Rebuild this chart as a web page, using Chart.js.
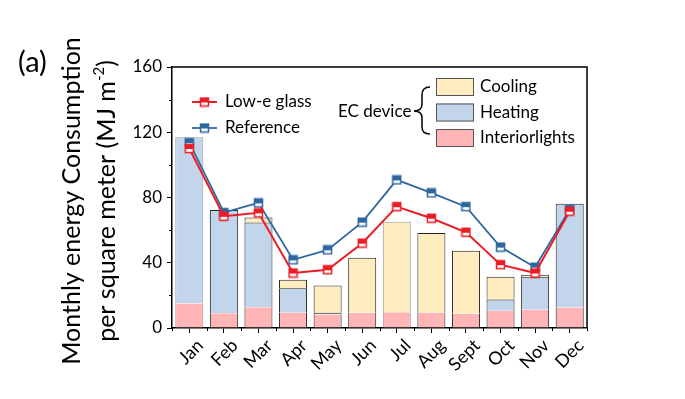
<!DOCTYPE html>
<html>
<head>
<meta charset="utf-8">
<script src="https://cdn.jsdelivr.net/npm/chart.js@4"></script>
<style>
    html, body { margin: 0; padding: 0; background: #fff; }
    #wrap { width: 685px; height: 399px; }
</style>
</head>
<body>
<div id="wrap"><canvas id="energy-chart" width="685" height="399"></canvas></div>
<script>
const months = ["Jan", "Feb", "Mar", "Apr", "May", "Jun", "Jul", "Aug", "Sept", "Oct", "Nov", "Dec"];
const interiorLights = [15, 9, 12.7, 9.4, 8.2, 9.4, 9.6, 9.4, 8.8, 10.6, 11.2, 12.5];
const heating = [102, 63.4, 52, 14.9, 1.2, 0, 0, 0, 0, 6.9, 20.2, 63.6];
const cooling = [0, 0, 3, 5.3, 16.7, 33.7, 55.5, 48.9, 38.5, 13.9, 1.3, 0];
const lowEGlass = [110, 68.5, 70.6, 33.7, 35.7, 52, 74.4, 67.3, 58.7, 38.8, 33.7, 71.6];
const reference = [113.6, 70.8, 76.7, 41.8, 47.9, 64.9, 90.8, 82.8, 74.4, 49.6, 37.3, 72.6];
const yTicks = [0, 40, 80, 120, 160];

const FONT = "Lato, 'Open Sans', sans-serif";
const RED = "#ec1c24";
const BLUE = "#2f67a0";
const COOL = "#ffecbf";
const HEAT = "#c2d5ea";
const LIGHT = "#ffb4b6";

// bar outlines: a couple of months look grey instead of black
const outline = months.map((m) => (m === "Jan" || m === "Jul" ? "#9a9a9a" : "#222"));

function halfSquare(color) {
    const c = document.createElement("canvas");
    c.width = 11;
    c.height = 11;
    const g = c.getContext("2d");
    g.fillStyle = "#fff";
    g.fillRect(1, 1, 9, 9);
    g.fillStyle = color;
    g.fillRect(1, 1, 9, 5);
    g.strokeStyle = color;
    g.lineWidth = 1.5;
    g.strokeRect(1.5, 1.5, 8, 8);
    return c;
}
const redMarker = halfSquare(RED);
const blueMarker = halfSquare(BLUE);

const decor = {
    id: "decor",
    afterDraw(chart) {
        const { ctx, chartArea } = chart;
        const xs = chart.scales.x;
        const ys = chart.scales.y;
        ctx.save();

        // top + right frame
        ctx.strokeStyle = "#000";
        ctx.lineWidth = 1.5;
        ctx.beginPath();
        ctx.moveTo(chartArea.left, chartArea.top);
        ctx.lineTo(chartArea.right, chartArea.top);
        ctx.lineTo(chartArea.right, chartArea.bottom);
        ctx.stroke();

        // minor ticks
        ctx.lineWidth = 1;
        ctx.beginPath();
        const half = (xs.getPixelForValue(1) - xs.getPixelForValue(0)) / 2;
        for (let i = 0; i <= months.length; i++) {
            const px = Math.round(xs.getPixelForValue(0) - half + i * 2 * half) + 0.5;
            ctx.moveTo(px, chartArea.bottom);
            ctx.lineTo(px, chartArea.bottom + 3);
        }
        for (let v = 20; v < 160; v += 40) {
            const py = Math.round(ys.getPixelForValue(v)) + 0.5;
            ctx.moveTo(chartArea.left, py);
            ctx.lineTo(chartArea.left - 3, py);
        }
        ctx.stroke();

        ctx.fillStyle = "#000";
        ctx.textBaseline = "middle";

        // panel letter
        ctx.font = "29px " + FONT;
        ctx.textAlign = "left";
        ctx.fillText("(a)", 18, 63);

        // y title, two rotated lines
        ctx.save();
        ctx.translate(72, 201);
        ctx.rotate(-Math.PI / 2);
        ctx.font = "25px " + FONT;
        ctx.textAlign = "center";
        ctx.fillText("Monthly energy Consumption", 0, 0);
        ctx.restore();

        ctx.save();
        ctx.translate(107, 201);
        ctx.rotate(-Math.PI / 2);
        ctx.font = "25px " + FONT;
        ctx.textAlign = "left";
        const a = "per square meter (MJ m";
        const sup = "-2";
        const b = ")";
        const wa = ctx.measureText(a).width;
        const wb = ctx.measureText(b).width;
        ctx.font = "15px " + FONT;
        const ws = ctx.measureText(sup).width;
        let x0 = -(wa + ws + wb) / 2;
        ctx.font = "25px " + FONT;
        ctx.fillText(a, x0, 0);
        ctx.font = "15px " + FONT;
        ctx.fillText(sup, x0 + wa, -8);
        ctx.font = "25px " + FONT;
        ctx.fillText(b, x0 + wa + ws, 0);
        ctx.restore();

        // line legend
        ctx.font = "17px " + FONT;
        [["Low-e glass", RED, redMarker, 102, 2], ["Reference", BLUE, blueMarker, 128, 1.8]].forEach(
            ([label, color, marker, y, w]) => {
                ctx.strokeStyle = color;
                ctx.lineWidth = w;
                ctx.beginPath();
                ctx.moveTo(192, y);
                ctx.lineTo(217, y);
                ctx.stroke();
                ctx.drawImage(marker, 199, y - 5.5);
                ctx.fillText(label, 225, y);
            }
        );

        // bar legend
        ctx.fillText("EC device", 338, 112);
        ctx.strokeStyle = "#000";
        ctx.lineWidth = 1.5;
        ctx.beginPath();
        ctx.moveTo(430, 87);
        ctx.quadraticCurveTo(422, 87, 422, 95);
        ctx.lineTo(422, 104);
        ctx.quadraticCurveTo(422, 111, 414, 111);
        ctx.quadraticCurveTo(422, 111, 422, 118);
        ctx.lineTo(422, 127);
        ctx.quadraticCurveTo(422, 134, 430, 134);
        ctx.stroke();

        [["Cooling", COOL, 78], ["Heating", HEAT, 103.5], ["Interiorlights", LIGHT, 129]].forEach(
            ([label, color, y]) => {
                ctx.fillStyle = color;
                ctx.fillRect(436, y, 38, 18);
                ctx.strokeStyle = "#555";
                ctx.lineWidth = 1;
                ctx.strokeRect(436.5, y + 0.5, 37, 17);
                ctx.fillStyle = "#000";
                ctx.fillText(label, 480, y + 9);
            }
        );

        ctx.restore();
    },
};

const ctx = document.getElementById("energy-chart").getContext("2d");

new Chart(ctx, {
    data: {
        labels: months,
        datasets: [
            {
                type: "line",
                label: "Low-e glass",
                data: lowEGlass,
                stack: "lowE",
                borderColor: RED,
                borderWidth: 2,
                pointStyle: redMarker,
                order: 1,
            },
            {
                type: "line",
                label: "Reference",
                data: reference,
                stack: "reference",
                borderColor: BLUE,
                borderWidth: 1.8,
                pointStyle: blueMarker,
                order: 1,
            },
            {
                type: "bar",
                label: "Interiorlights",
                data: interiorLights,
                stack: "ec",
                backgroundColor: LIGHT,
                borderColor: outline,
                borderWidth: { left: 1, right: 1, top: 0, bottom: 0 },
                order: 2,
            },
            {
                type: "bar",
                label: "Heating",
                data: heating,
                stack: "ec",
                backgroundColor: HEAT,
                borderColor: outline,
                borderWidth: 1,
                order: 2,
            },
            {
                type: "bar",
                label: "Cooling",
                data: cooling,
                stack: "ec",
                backgroundColor: COOL,
                borderColor: outline,
                borderWidth: 1,
                order: 2,
            },
        ],
    },
    options: {
        responsive: false,
        animation: false,
        layout: {
            padding: { left: 0, top: 67, right: 98, bottom: 0 },
        },
        datasets: {
            bar: { barPercentage: 0.81, categoryPercentage: 1 },
        },
        plugins: {
            legend: { display: false },
            tooltip: { enabled: false },
        },
        scales: {
            x: {
                stacked: true,
                offset: true,
                grid: {
                    offset: false,
                    drawOnChartArea: false,
                    tickLength: 5,
                    tickColor: "#000",
                },
                border: { color: "#000", width: 1.5 },
                ticks: {
                    autoSkip: false,
                    maxRotation: 45,
                    minRotation: 45,
                    color: "#000",
                    font: { family: FONT, size: 18 },
                    padding: 2,
                    labelOffset: 11,
                },
                afterFit(scale) {
                    scale.height = 71;
                },
            },
            y: {
                stacked: true,
                min: 0,
                max: 160,
                afterBuildTicks(scale) {
                    scale.ticks = yTicks.map((v) => ({ value: v }));
                },
                grid: {
                    drawOnChartArea: false,
                    tickLength: 5,
                    tickColor: "#000",
                },
                border: { color: "#000", width: 1.5 },
                ticks: {
                    color: "#000",
                    font: { family: FONT, size: 17 },
                    padding: 5,
                },
                afterFit(scale) {
                    scale.width = 172;
                },
            },
        },
    },
    plugins: [decor],
});
</script>
</body>
</html>
